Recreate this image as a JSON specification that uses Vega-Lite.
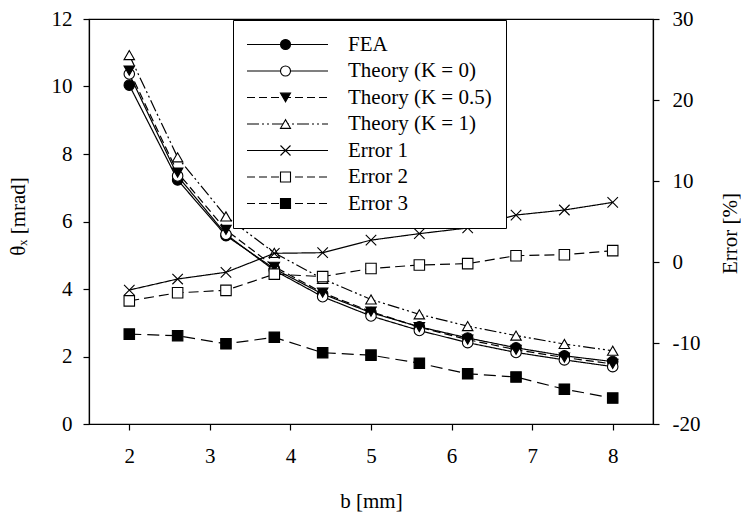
{
  "$schema": "https://vega.github.io/schema/vega-lite/v6.json",
  "width": 564,
  "height": 405,
  "autosize": {"type": "none"},
  "padding": {"left": 89, "top": 19, "right": 88, "bottom": 89},
  "background": "white",
  "data": {
    "values": [
      {"b": 2.0, "value": 10.04, "series": "FEA", "axis": "left"},
      {"b": 2.6, "value": 7.23, "series": "FEA", "axis": "left"},
      {"b": 3.2, "value": 5.58, "series": "FEA", "axis": "left"},
      {"b": 3.8, "value": 4.6, "series": "FEA", "axis": "left"},
      {"b": 4.4, "value": 3.85, "series": "FEA", "axis": "left"},
      {"b": 5.0, "value": 3.3, "series": "FEA", "axis": "left"},
      {"b": 5.6, "value": 2.88, "series": "FEA", "axis": "left"},
      {"b": 6.2, "value": 2.55, "series": "FEA", "axis": "left"},
      {"b": 6.8, "value": 2.26, "series": "FEA", "axis": "left"},
      {"b": 7.4, "value": 2.02, "series": "FEA", "axis": "left"},
      {"b": 8.0, "value": 1.85, "series": "FEA", "axis": "left"},
      {"b": 2.0, "value": 10.37, "series": "Theory (K = 0)", "axis": "left"},
      {"b": 2.6, "value": 7.35, "series": "Theory (K = 0)", "axis": "left"},
      {"b": 3.2, "value": 5.62, "series": "Theory (K = 0)", "axis": "left"},
      {"b": 3.8, "value": 4.55, "series": "Theory (K = 0)", "axis": "left"},
      {"b": 4.4, "value": 3.77, "series": "Theory (K = 0)", "axis": "left"},
      {"b": 5.0, "value": 3.2, "series": "Theory (K = 0)", "axis": "left"},
      {"b": 5.6, "value": 2.77, "series": "Theory (K = 0)", "axis": "left"},
      {"b": 6.2, "value": 2.41, "series": "Theory (K = 0)", "axis": "left"},
      {"b": 6.8, "value": 2.12, "series": "Theory (K = 0)", "axis": "left"},
      {"b": 7.4, "value": 1.9, "series": "Theory (K = 0)", "axis": "left"},
      {"b": 8.0, "value": 1.7, "series": "Theory (K = 0)", "axis": "left"},
      {"b": 2.0, "value": 10.47, "series": "Theory (K = 0.5)", "axis": "left"},
      {"b": 2.6, "value": 7.45, "series": "Theory (K = 0.5)", "axis": "left"},
      {"b": 3.2, "value": 5.75, "series": "Theory (K = 0.5)", "axis": "left"},
      {"b": 3.8, "value": 4.66, "series": "Theory (K = 0.5)", "axis": "left"},
      {"b": 4.4, "value": 3.89, "series": "Theory (K = 0.5)", "axis": "left"},
      {"b": 5.0, "value": 3.33, "series": "Theory (K = 0.5)", "axis": "left"},
      {"b": 5.6, "value": 2.87, "series": "Theory (K = 0.5)", "axis": "left"},
      {"b": 6.2, "value": 2.5, "series": "Theory (K = 0.5)", "axis": "left"},
      {"b": 6.8, "value": 2.2, "series": "Theory (K = 0.5)", "axis": "left"},
      {"b": 7.4, "value": 1.97, "series": "Theory (K = 0.5)", "axis": "left"},
      {"b": 8.0, "value": 1.78, "series": "Theory (K = 0.5)", "axis": "left"},
      {"b": 2.0, "value": 10.93, "series": "Theory (K = 1)", "axis": "left"},
      {"b": 2.6, "value": 7.9, "series": "Theory (K = 1)", "axis": "left"},
      {"b": 3.2, "value": 6.15, "series": "Theory (K = 1)", "axis": "left"},
      {"b": 3.8, "value": 5.07, "series": "Theory (K = 1)", "axis": "left"},
      {"b": 4.4, "value": 4.3, "series": "Theory (K = 1)", "axis": "left"},
      {"b": 5.0, "value": 3.69, "series": "Theory (K = 1)", "axis": "left"},
      {"b": 5.6, "value": 3.25, "series": "Theory (K = 1)", "axis": "left"},
      {"b": 6.2, "value": 2.9, "series": "Theory (K = 1)", "axis": "left"},
      {"b": 6.8, "value": 2.62, "series": "Theory (K = 1)", "axis": "left"},
      {"b": 7.4, "value": 2.37, "series": "Theory (K = 1)", "axis": "left"},
      {"b": 8.0, "value": 2.17, "series": "Theory (K = 1)", "axis": "left"},
      {"b": 2.0, "value": -3.46, "series": "Error 1", "axis": "right"},
      {"b": 2.6, "value": -2.1, "series": "Error 1", "axis": "right"},
      {"b": 3.2, "value": -1.27, "series": "Error 1", "axis": "right"},
      {"b": 3.8, "value": 1.07, "series": "Error 1", "axis": "right"},
      {"b": 4.4, "value": 1.15, "series": "Error 1", "axis": "right"},
      {"b": 5.0, "value": 2.7, "series": "Error 1", "axis": "right"},
      {"b": 5.6, "value": 3.5, "series": "Error 1", "axis": "right"},
      {"b": 6.2, "value": 4.2, "series": "Error 1", "axis": "right"},
      {"b": 6.8, "value": 5.8, "series": "Error 1", "axis": "right"},
      {"b": 7.4, "value": 6.42, "series": "Error 1", "axis": "right"},
      {"b": 8.0, "value": 7.36, "series": "Error 1", "axis": "right"},
      {"b": 2.0, "value": -4.8, "series": "Error 2", "axis": "right"},
      {"b": 2.6, "value": -3.8, "series": "Error 2", "axis": "right"},
      {"b": 3.2, "value": -3.5, "series": "Error 2", "axis": "right"},
      {"b": 3.8, "value": -1.5, "series": "Error 2", "axis": "right"},
      {"b": 4.4, "value": -1.8, "series": "Error 2", "axis": "right"},
      {"b": 5.0, "value": -0.8, "series": "Error 2", "axis": "right"},
      {"b": 5.6, "value": -0.37, "series": "Error 2", "axis": "right"},
      {"b": 6.2, "value": -0.2, "series": "Error 2", "axis": "right"},
      {"b": 6.8, "value": 0.78, "series": "Error 2", "axis": "right"},
      {"b": 7.4, "value": 0.9, "series": "Error 2", "axis": "right"},
      {"b": 8.0, "value": 1.4, "series": "Error 2", "axis": "right"},
      {"b": 2.0, "value": -8.9, "series": "Error 3", "axis": "right"},
      {"b": 2.6, "value": -9.1, "series": "Error 3", "axis": "right"},
      {"b": 3.2, "value": -10.1, "series": "Error 3", "axis": "right"},
      {"b": 3.8, "value": -9.3, "series": "Error 3", "axis": "right"},
      {"b": 4.4, "value": -11.2, "series": "Error 3", "axis": "right"},
      {"b": 5.0, "value": -11.5, "series": "Error 3", "axis": "right"},
      {"b": 5.6, "value": -12.5, "series": "Error 3", "axis": "right"},
      {"b": 6.2, "value": -13.8, "series": "Error 3", "axis": "right"},
      {"b": 6.8, "value": -14.2, "series": "Error 3", "axis": "right"},
      {"b": 7.4, "value": -15.7, "series": "Error 3", "axis": "right"},
      {"b": 8.0, "value": -16.8, "series": "Error 3", "axis": "right"}
    ]
  },
  "encoding": {
    "x": {
      "field": "b",
      "type": "quantitative",
      "scale": {"domain": [1.5, 8.5], "nice": false, "zero": false},
      "axis": {
        "values": [2, 3, 4, 5, 6, 7, 8],
        "title": "b [mm]",
        "titleBaseline": "alphabetic",
        "titleY": 83,
        "labelPadding": 15
      }
    }
  },
  "layer": [
    {
      "transform": [{"filter": "datum.axis === 'left'"}],
      "encoding": {
        "y": {
          "field": "value",
          "type": "quantitative",
          "scale": {"domain": [0, 12], "nice": false, "zero": false},
          "axis": {
            "values": [0, 2, 4, 6, 8, 10, 12],
            "title": "θₓ [mrad]",
            "titleAngle": -90,
            "titleBaseline": "alphabetic",
            "titleAlign": "center",
            "titleX": -65,
            "titleY": 197
          }
        }
      },
      "layer": [
        {
          "mark": {"type": "line", "color": "black", "strokeWidth": 1.2},
          "encoding": {
            "strokeDash": {
              "field": "series",
              "type": "nominal",
              "scale": {
                "domain": ["FEA", "Theory (K = 0)", "Theory (K = 0.5)", "Theory (K = 1)"],
                "range": [[1, 0], [1, 0], [8, 4], [12, 3, 2, 3, 2, 3]]
              },
              "legend": null
            }
          }
        },
        {
          "mark": {"type": "point", "filled": true, "size": 110, "stroke": "black", "strokeWidth": 1.1, "opacity": 1},
          "encoding": {
            "shape": {
              "field": "series",
              "type": "nominal",
              "scale": {
                "domain": ["FEA", "Theory (K = 0)", "Theory (K = 0.5)", "Theory (K = 1)"],
                "range": ["circle", "circle", "triangle-down", "triangle-up"]
              },
              "legend": null
            },
            "fill": {
              "field": "series",
              "type": "nominal",
              "scale": {
                "domain": ["FEA", "Theory (K = 0)", "Theory (K = 0.5)", "Theory (K = 1)"],
                "range": ["black", "white", "black", "white"]
              },
              "legend": null
            }
          }
        }
      ]
    },
    {
      "transform": [{"filter": "datum.axis === 'right'"}],
      "encoding": {
        "y": {
          "field": "value",
          "type": "quantitative",
          "scale": {"domain": [-20, 30], "nice": false, "zero": false},
          "axis": {
            "orient": "right",
            "values": [-20, -10, 0, 10, 20, 30],
            "labelExpr": "'' + datum.value",
            "labelPadding": 13,
            "title": "Error [%]",
            "titleAngle": -90,
            "titleBaseline": "alphabetic",
            "titleAlign": "center",
            "titleX": 83,
            "titleY": 214
          }
        }
      },
      "layer": [
        {
          "mark": {"type": "line", "color": "black", "strokeWidth": 1.2},
          "encoding": {
            "strokeDash": {
              "field": "series",
              "type": "nominal",
              "scale": {
                "domain": ["Error 1", "Error 2", "Error 3"],
                "range": [[1, 0], [10, 5], [12, 6]]
              },
              "legend": null
            }
          }
        },
        {
          "mark": {"type": "point", "filled": true, "size": 110, "stroke": "black", "strokeWidth": 1.1, "opacity": 1},
          "encoding": {
            "shape": {
              "field": "series",
              "type": "nominal",
              "scale": {
                "domain": ["Error 1", "Error 2", "Error 3"],
                "range": ["M-1,-1L1,1M-1,1L1,-1", "square", "square"]
              },
              "legend": null
            },
            "fill": {
              "field": "series",
              "type": "nominal",
              "scale": {
                "domain": ["Error 1", "Error 2", "Error 3"],
                "range": ["white", "white", "black"]
              },
              "legend": null
            }
          }
        }
      ]
    },
    {
      "transform": [{"filter": "datum.b === 2"}],
      "mark": {"type": "point", "shape": "M-7.7,0H8.5", "filled": false, "stroke": "black", "strokeWidth": 1, "opacity": 0},
      "encoding": {
        "strokeDash": {
          "field": "series",
          "type": "nominal",
          "scale": {
            "domain": ["FEA", "Theory (K = 0)", "Theory (K = 0.5)", "Theory (K = 1)", "Error 1", "Error 2", "Error 3"],
            "range": [[1, 0], [1, 0], [8, 4], [12, 3, 2, 3, 2, 3], [1, 0], [8, 4], [8, 4]]
          },
          "legend": {
            "title": null,
            "orient": "none",
            "legendX": 144,
            "legendY": 1,
            "padding": 14,
            "rowPadding": 4.5,
            "symbolOffset": 28,
            "labelOffset": 52,
            "symbolType": "M-7.7,0H8.5",
            "symbolSize": 100,
            "symbolStrokeColor": "black",
            "symbolStrokeWidth": 1.2,
            "symbolFillColor": "transparent",
            "symbolOpacity": 1,
            "labelOpacity": 0,
            "fillColor": "white"
          }
        }
      }
    },
    {
      "transform": [{"filter": "datum.b === 2"}],
      "mark": {"type": "point", "filled": true, "stroke": "black", "strokeWidth": 1, "opacity": 0},
      "encoding": {
        "shape": {
          "field": "series",
          "type": "nominal",
          "scale": {
            "domain": ["FEA", "Theory (K = 0)", "Theory (K = 0.5)", "Theory (K = 1)", "Error 1", "Error 2", "Error 3"],
            "range": ["circle", "circle", "triangle-down", "triangle-up", "M-1,-1L1,1M-1,1L1,-1", "square", "square"]
          },
          "legend": {
            "title": null,
            "orient": "none",
            "legendX": 144,
            "legendY": 1,
            "padding": 14,
            "rowPadding": 4.5,
            "symbolOffset": 28,
            "labelOffset": 52,
            "symbolSize": 100,
            "symbolStrokeColor": "black",
            "symbolStrokeWidth": 1,
            "symbolOpacity": 1,
            "strokeColor": "black",
            "encode": {
              "symbols": {
                "update": {
                  "stroke": {"value": "black"},
                  "strokeWidth": {"value": 1.1},
                  "strokeOpacity": {"value": 1}
                }
              }
            }
          }
        },
        "fill": {
          "field": "series",
          "type": "nominal",
          "scale": {
            "domain": ["FEA", "Theory (K = 0)", "Theory (K = 0.5)", "Theory (K = 1)", "Error 1", "Error 2", "Error 3"],
            "range": ["black", "white", "black", "white", "white", "white", "black"]
          },
          "legend": {
            "title": null,
            "orient": "none",
            "legendX": 144,
            "legendY": 1,
            "padding": 14,
            "rowPadding": 4.5,
            "symbolOffset": 28,
            "labelOffset": 52,
            "symbolSize": 100,
            "symbolStrokeColor": "black",
            "symbolStrokeWidth": 1,
            "symbolOpacity": 1,
            "strokeColor": "black",
            "encode": {
              "symbols": {
                "update": {
                  "stroke": {"value": "black"},
                  "strokeWidth": {"value": 1.1},
                  "strokeOpacity": {"value": 1}
                }
              }
            }
          }
        }
      }
    }
  ],
  "resolve": {
    "scale": {"y": "independent", "shape": "independent", "fill": "independent", "strokeDash": "independent"}
  },
  "config": {
    "view": {"stroke": "black", "strokeWidth": 1.2},
    "axis": {
      "labelFont": "Liberation Serif",
      "labelFontSize": 21,
      "labelColor": "black",
      "titleFont": "Liberation Serif",
      "titleFontSize": 21,
      "titleFontWeight": "normal",
      "titleColor": "black",
      "domainColor": "black",
      "domainWidth": 1.2,
      "tickColor": "black",
      "tickWidth": 1.2,
      "tickSize": 6,
      "grid": false,
      "labelPadding": 11
    },
    "legend": {
      "labelFont": "Liberation Serif",
      "labelFontSize": 21,
      "labelColor": "black",
      "labelLimit": 400
    }
  }
}
